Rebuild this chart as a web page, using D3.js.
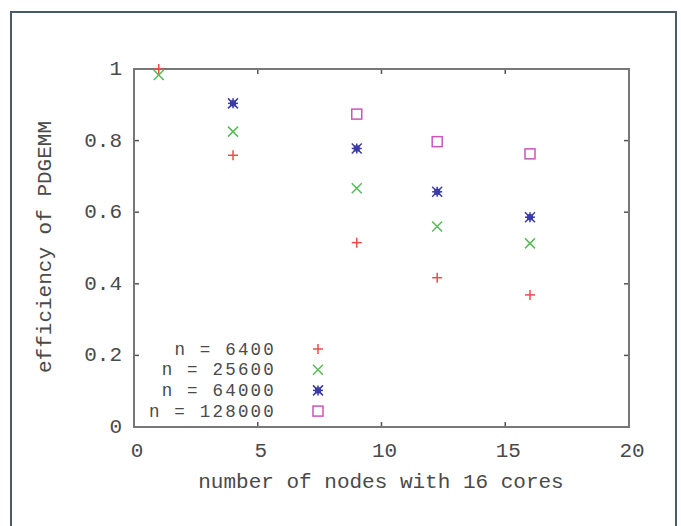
<!DOCTYPE html>
<html>
<head>
<meta charset="utf-8">
<script src="https://cdn.jsdelivr.net/npm/d3@7"></script>
<style>
  body { margin: 0; background: #fff; }
  text { font-family: "Liberation Mono", "DejaVu Sans Mono", monospace; fill: #4a4a4a; }
</style>
</head>
<body>
<svg id="chart" width="681" height="526"></svg>
<script>
// values
var nodes = [1, 4, 9, 12.25, 16];
var seriesNames = ["n = 6400", "n = 25600", "n = 64000", "n = 128000"];
var eff6400   = [1.0,   0.759, 0.515, 0.417, 0.369];
var eff25600  = [0.983, 0.825, 0.667, 0.560, 0.513];
var eff64000  = [null,  0.904, 0.778, 0.657, 0.586];
var eff128000 = [null,  null,  0.874, 0.797, 0.763];
var xTicks = [0, 5, 10, 15, 20];
var yTicks = [0, 0.2, 0.4, 0.6, 0.8, 1];

var colors = ["#ee4a4a", "#55bb55", "#3a3aaa", "#cc55bb"];
var shapes = ["plus", "cross", "star", "square"];
var allSeries = [eff6400, eff25600, eff64000, eff128000];

var svg = d3.select("#chart");

// outer frame
svg.append("rect")
    .attr("x", 11).attr("y", 12).attr("width", 665).attr("height", 530)
    .attr("fill", "none").attr("stroke", "#4a5b66").attr("stroke-width", 2);

var x = d3.scaleLinear().domain([0, 20]).range([134, 629]);
var y = d3.scaleLinear().domain([0, 1]).range([427, 69]);

var g = svg.append("g");

// ticks (inward, mirrored)
var tl = 5;
xTicks.forEach(function(t){
    g.append("line").attr("x1", x(t)).attr("x2", x(t)).attr("y1", y(0)).attr("y2", y(0) - tl)
        .attr("stroke", "#555").attr("stroke-width", 1.5);
    g.append("line").attr("x1", x(t)).attr("x2", x(t)).attr("y1", y(1)).attr("y2", y(1) + tl)
        .attr("stroke", "#555").attr("stroke-width", 1.5);
    g.append("text").attr("x", x(t) + 3).attr("y", 457).attr("text-anchor", "middle")
        .style("font-size", "21px").text(t);
});
yTicks.forEach(function(t){
    g.append("line").attr("x1", x(0)).attr("x2", x(0) + tl).attr("y1", y(t)).attr("y2", y(t))
        .attr("stroke", "#555").attr("stroke-width", 1.5);
    g.append("line").attr("x1", x(20)).attr("x2", x(20) - tl).attr("y1", y(t)).attr("y2", y(t))
        .attr("stroke", "#555").attr("stroke-width", 1.5);
    g.append("text").attr("x", 122).attr("y", y(t) + 6).attr("text-anchor", "end")
        .style("font-size", "21px").text(t === 0 || t === 1 ? t : t.toFixed(1));
});

// plot border
g.append("rect")
    .attr("x", x(0)).attr("y", y(1)).attr("width", x(20) - x(0)).attr("height", y(0) - y(1))
    .attr("fill", "none").attr("stroke", "#777").attr("stroke-width", 2);

// axis titles
g.append("text").attr("x", 381).attr("y", 488).attr("text-anchor", "middle")
    .style("font-size", "21px").text("number of nodes with 16 cores");
g.append("text").attr("transform", "translate(51,247) rotate(-90)").attr("text-anchor", "middle")
    .style("font-size", "21px").text("efficiency of PDGEMM");

function drawMarker(sel, shape, color){
    var s = 5;
    if (shape === "plus" || shape === "star") {
        sel.append("line").attr("x1", -s).attr("x2", s).attr("y1", 0).attr("y2", 0);
        sel.append("line").attr("x1", 0).attr("x2", 0).attr("y1", -s).attr("y2", s);
    }
    if (shape === "cross" || shape === "star") {
        sel.append("line").attr("x1", -s).attr("x2", s).attr("y1", -s).attr("y2", s);
        sel.append("line").attr("x1", -s).attr("x2", s).attr("y1", s).attr("y2", -s);
    }
    if (shape === "star") {
        sel.append("rect").attr("x", -3).attr("y", -3).attr("width", 6).attr("height", 6)
            .attr("fill", color).attr("stroke", "none");
    }
    if (shape === "square") {
        sel.append("rect").attr("x", -5).attr("y", -5).attr("width", 10).attr("height", 10)
            .attr("fill", "none");
    }
    sel.selectAll("line, rect").attr("stroke", function(){
        return d3.select(this).attr("stroke") === "none" ? null : color;
    }).attr("stroke-width", 1.5);
}

allSeries.forEach(function(vals, si){
    var pts = nodes.map(function(n, i){ return {x: n, y: vals[i]}; })
        .filter(function(d){ return d.y !== null; });
    g.selectAll(".m" + si).data(pts).enter().append("g")
        .attr("class", "m" + si)
        .attr("transform", function(d){ return "translate(" + x(d.x) + "," + y(d.y) + ")"; })
        .each(function(){ drawMarker(d3.select(this), shapes[si], colors[si]); });
});

// legend (slightly smaller type, letter-spaced to keep the width)
var legend = g.append("g");
seriesNames.forEach(function(name, i){
    var ly = 349 + i * 20.7;
    legend.append("text").attr("x", 276).attr("y", ly + 5.5).attr("text-anchor", "end")
        .style("font-size", "17.5px").style("letter-spacing", "2.2px").text(name);
    var m = legend.append("g").attr("transform", "translate(318," + ly + ")");
    drawMarker(m, shapes[i], colors[i]);
});
</script>
</body>
</html>
